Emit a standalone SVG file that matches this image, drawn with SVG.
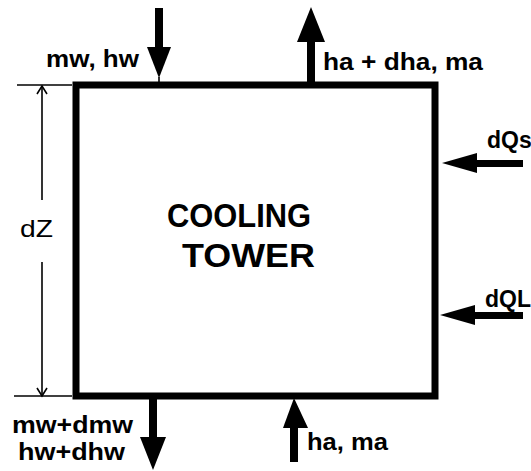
<svg xmlns="http://www.w3.org/2000/svg" width="531" height="471" viewBox="0 0 531 471">
  <style>
    .lbl { font-family: "Liberation Sans", Arial, sans-serif; font-weight: bold; font-size: 23px; fill: #000; }
    .big { font-family: "Liberation Sans", Arial, sans-serif; font-weight: bold; font-size: 33px; fill: #000; }
    .dim { font-family: "Liberation Sans", Arial, sans-serif; font-size: 24px; fill: #000; }
    .shaft { fill: #000; }
    .thin { stroke: #000; stroke-width: 1.6; fill: none; }
  </style>
  <rect width="531" height="471" fill="#fff"/>

  <g id="tower">
    <rect x="76" y="85" width="359" height="311" fill="none" stroke="#000" stroke-width="7"/>
    <text class="big" x="167" y="227" textLength="144" lengthAdjust="spacingAndGlyphs">COOLING</text>
    <text class="big" x="182" y="267" textLength="133" lengthAdjust="spacingAndGlyphs">TOWER</text>
  </g>

  <g id="connectors">
    <!-- water in (top, down) -->
    <rect class="shaft" x="155" y="8" width="8" height="40"/>
    <polygon class="shaft" points="147,47 171,47 159,78"/>
    <line class="thin" x1="159" y1="77" x2="159" y2="85"/>
    <!-- air out (top, up) -->
    <rect class="shaft" x="307" y="40" width="8" height="45"/>
    <polygon class="shaft" points="297,42 325,42 311,7"/>
    <!-- dQs -->
    <rect class="shaft" x="475" y="160" width="48" height="7"/>
    <polygon class="shaft" points="477,153 477,173 442,163"/>
    <!-- dQL -->
    <rect class="shaft" x="473" y="312" width="50" height="7"/>
    <polygon class="shaft" points="475,305 475,325 440,315"/>
    <!-- water out (bottom, down) -->
    <rect class="shaft" x="149" y="399" width="8" height="40"/>
    <polygon class="shaft" points="140,437 166,437 153,470"/>
    <!-- air in (bottom, up) -->
    <rect class="shaft" x="290" y="426" width="8" height="36"/>
    <polygon class="shaft" points="283,428 308,428 294,398"/>
    <!-- dimension dZ -->
    <line class="thin" x1="17" y1="85" x2="72" y2="85"/>
    <line class="thin" x1="14" y1="396" x2="72" y2="396"/>
    <line class="thin" x1="42" y1="87" x2="42" y2="200"/>
    <line class="thin" x1="42" y1="262" x2="42" y2="394"/>
    <polyline class="thin" points="37,94 42,86 47,94"/>
    <polyline class="thin" points="37,388 42,396 47,388"/>
  </g>

  <g id="label-mw-hw"><text class="lbl" x="46" y="67" textLength="93" lengthAdjust="spacingAndGlyphs">mw, hw</text></g>
  <g id="label-ha-dha"><text class="lbl" x="323" y="70" textLength="160" lengthAdjust="spacingAndGlyphs">ha + dha, ma</text></g>
  <g id="label-dQs"><text class="lbl" x="487" y="148">dQs</text></g>
  <g id="label-dQL"><text class="lbl" x="485" y="307">dQL</text></g>
  <g id="label-dZ"><text class="dim" x="20" y="237" textLength="33" lengthAdjust="spacingAndGlyphs">dZ</text></g>
  <g id="label-mw-out">
    <text class="lbl" x="12" y="433" textLength="121" lengthAdjust="spacingAndGlyphs">mw+dmw</text>
    <text class="lbl" x="18" y="460" textLength="107" lengthAdjust="spacingAndGlyphs">hw+dhw</text>
  </g>
  <g id="label-ha-ma"><text class="lbl" x="307" y="450" textLength="81" lengthAdjust="spacingAndGlyphs">ha, ma</text></g>
</svg>
